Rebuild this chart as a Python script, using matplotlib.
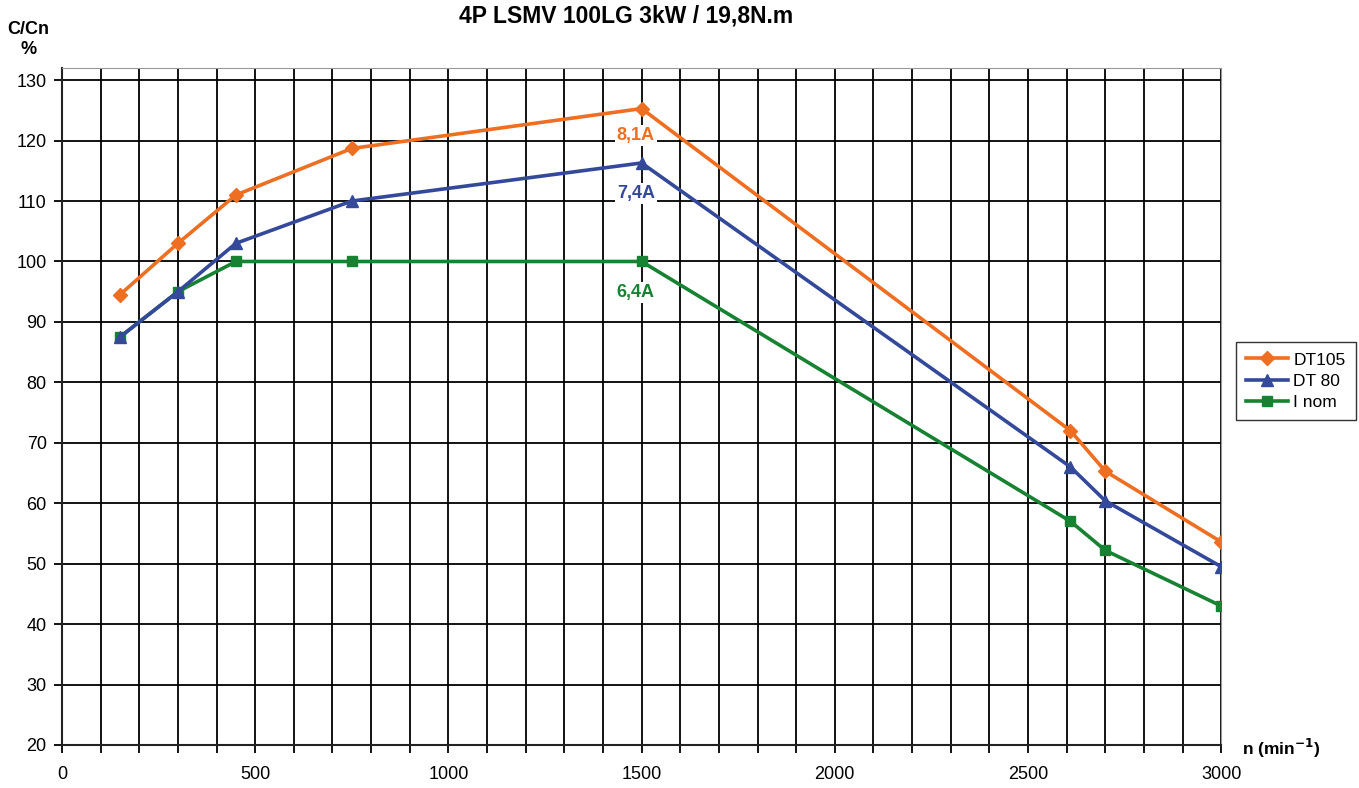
import numpy as np
import matplotlib.pyplot as plt

plt.rcParams['font.family'] = ['Liberation Sans', 'DejaVu Sans']

speed = [150, 300, 450, 750, 1500, 2610, 2700, 3000]
dt105 = [94.5, 103, 111, 118.7, 125.3, 72, 65.3, 53.6]
dt80 = [87.5, 95, 103, 110, 116.3, 66, 60.4, 49.5]
inom = [87.5, 95, 100, 100, 100, 57, 52.2, 43]

labels = ["8,1A", "7,4A", "6,4A"]
label_y = [120.8, 111.3, 94.9]

orange = '#EE6F22'
blue = '#34499A'
green = '#178232'

fig = plt.figure(figsize=(13.59, 7.88), dpi=100)
ax = fig.add_axes([0.0456, 0.0546, 0.853, 0.859])

ax.plot(speed, dt105, color=orange, lw=2.6, marker='D', ms=7, label='DT105', zorder=5)
ax.plot(speed, dt80, color=blue, lw=2.6, marker='^', ms=9, label='DT 80', zorder=4)
ax.plot(speed, inom, color=green, lw=2.6, marker='s', ms=7.5, label='I nom', zorder=3)

for txt, yy, c in zip(labels, label_y, [orange, blue, green]):
    ax.text(1485, yy, txt, color=c, fontsize=13, fontweight='bold', ha='center', va='center',
            bbox=dict(facecolor='white', edgecolor='none', pad=1.5), zorder=6)

ax.set_xlim(0, 3000)
ax.set_ylim(20, 132)
ax.set_xticks(np.arange(0, 3001, 500))
ax.set_xticks(np.arange(0, 3001, 100), minor=True)
ax.set_yticks(np.arange(20, 131, 10))
ax.grid(True, which='both', color='black', lw=1.3)
ax.set_axisbelow(True)
ax.tick_params(which='both', direction='out', length=6, width=1.3, color='black', labelsize=13)
ax.tick_params(axis='x', which='major', pad=9)
ax.tick_params(axis='y', pad=5)
for s in ['top', 'right']:
    ax.spines[s].set_color('#999999')
for s in ['left', 'bottom']:
    ax.spines[s].set_color('#222222')
    ax.spines[s].set_linewidth(1.5)

fig.text(0.461, 0.980, '4P LSMV 100LG 3kW / 19,8N.m', ha='center', va='center',
         fontsize=16.5, fontweight='bold')
fig.text(0.021, 0.963, 'C/Cn', ha='center', va='center', fontsize=13, fontweight='bold')
fig.text(0.021, 0.937, '%', ha='center', va='center', fontsize=13, fontweight='bold')
fig.text(0.914, 0.050, r'n (min$^{\mathbf{-1}}$)', ha='left', va='center', fontsize=12.5,
         fontweight='bold')

leg = fig.legend(loc='upper left', bbox_to_anchor=(0.903, 0.577), fontsize=12.5, frameon=True,
                 fancybox=False, edgecolor='black', handlelength=2.4, borderpad=0.6,
                 labelspacing=0.35, handletextpad=0.3)
leg.get_frame().set_linewidth(1.0)

fig.savefig('out.png', dpi=100)
